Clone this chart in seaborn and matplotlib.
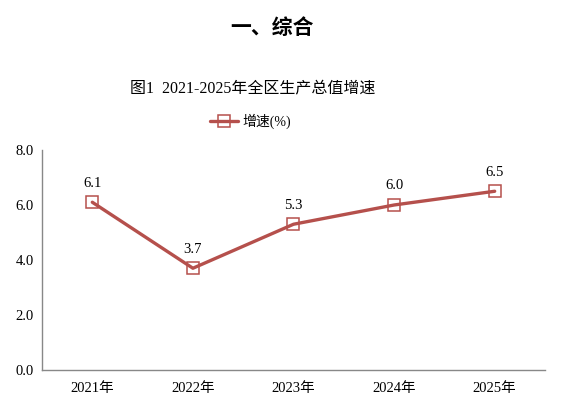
import matplotlib
matplotlib.use("Agg")
import matplotlib.pyplot as plt
import pandas as pd
import seaborn as sns

years = ["2021年", "2022年", "2023年", "2024年", "2025年"]
growth = [6.1, 3.7, 5.3, 6.0, 6.5]
y_ticks = [0.0, 2.0, 4.0, 6.0, 8.0]

sns.set_theme(style="white")
plt.rcParams["font.family"] = ["Liberation Serif", "Noto Sans CJK SC", "DejaVu Sans"]
plt.rcParams["text.color"] = "black"
plt.rcParams["xtick.color"] = "black"
plt.rcParams["ytick.color"] = "black"

df = pd.DataFrame({"year": years, "growth": growth})
line_color = "#B5504C"

fig = plt.figure(figsize=(5.86, 4.04), dpi=100)
ax = fig.add_axes([0.0717, 0.0842, 0.8583, 0.5445])

sns.lineplot(data=df, x="year", y="growth", ax=ax, color=line_color, linewidth=2.4,
             marker="s", markersize=8.5, markerfacecolor="none", markeredgecolor=line_color,
             markeredgewidth=1.1, label="增速(%)", sort=False)

for i, v in enumerate(growth):
    ax.annotate(f"{v:.1f}", (i, v), xytext=(0, 9), textcoords="offset points",
                ha="center", va="bottom", fontsize=10.5, color="black")

ax.set_xlim(-0.5, len(years) - 0.5)
ax.set_ylim(0, 8)
ax.set_yticks(y_ticks)
ax.set_yticklabels([f"{t:.1f}" for t in y_ticks], fontsize=10.5)
ax.tick_params(axis="x", labelsize=10.5, length=0, pad=9)
ax.tick_params(axis="y", length=0, pad=6)
ax.set_xlabel("")
ax.set_ylabel("")
for s in ["top", "right"]:
    ax.spines[s].set_visible(False)
for s in ["left", "bottom"]:
    ax.spines[s].set_color("#888888")
    ax.spines[s].set_linewidth(1.0)

leg = ax.legend(loc="center", bbox_to_anchor=(0.415, 1.132), frameon=False,
                fontsize=10, handlelength=2.0, handletextpad=0.3)

fig.text(0.464, 0.933, "一、综合", ha="center", va="center", fontsize=15,
         fontweight="bold", family=["Noto Sans CJK SC"])
fig.text(0.431, 0.782, "图1  2021-2025年全区生产总值增速", ha="center", va="center",
         fontsize=11.5)

fig.savefig("out.png", dpi=100)
